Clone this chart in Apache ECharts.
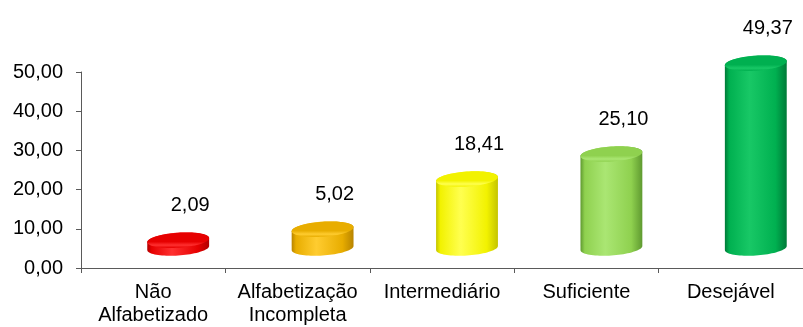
<!DOCTYPE html>
<html>
<head>
<meta charset="utf-8">
<script src="https://cdn.jsdelivr.net/npm/echarts@6/dist/echarts.min.js"></script>
<style>
  html, body { margin: 0; padding: 0; background: #fff; }
  #chart { width: 803px; height: 327px; }
</style>
</head>
<body>
<div id="chart"></div>
<script>
// Níveis de proficiência e percentuais
const categories = ['Não\nAlfabetizado', 'Alfabetização\nIncompleta', 'Intermediário', 'Suficiente', 'Desejável'];
const values = [2.09, 5.02, 18.41, 25.10, 49.37];
const yTicks = { min: 0, max: 50, interval: 10 };

// Cores de cada cilindro: [escura, base, clara]
const palette = [
  ['#b00000', '#e60000', '#ff3030'],
  ['#b88400', '#e8ad00', '#ffcc30'],
  ['#c4c400', '#f2f200', '#ffff50'],
  ['#5f9a30', '#8fd14f', '#aae673'],
  ['#007a38', '#00b050', '#18c866']
];

const fmt = v => v.toFixed(2).replace('.', ',');
const FONT = '"Liberation Sans", Arial, sans-serif';

function bodyGradient(c) {
  return new echarts.graphic.LinearGradient(0, 0, 1, 0, [
    { offset: 0, color: c[0] },
    { offset: 0.07, color: c[1] },
    { offset: 0.4, color: c[2] },
    { offset: 0.82, color: c[1] },
    { offset: 1, color: c[0] }
  ]);
}

function topGradient(c) {
  return new echarts.graphic.LinearGradient(0, 0, 0, 1, [
    { offset: 0, color: c[1] },
    { offset: 0.6, color: c[1] },
    { offset: 0.82, color: c[2] },
    { offset: 1, color: c[1] }
  ]);
}

// Ponto de uma elipse inclinada (ângulo phi, sentido anti-horário na tela)
function ellipsePoint(cx, cy, rx, ry, phi, t) {
  const u = rx * Math.cos(t), w = ry * Math.sin(t);
  return [cx + u * Math.cos(phi) + w * Math.sin(phi), cy - u * Math.sin(phi) + w * Math.cos(phi)];
}

function arc(cx, cy, rx, ry, phi, t0, t1, n) {
  const pts = [];
  for (let k = 0; k <= n; k++) pts.push(ellipsePoint(cx, cy, rx, ry, phi, t0 + (t1 - t0) * k / n));
  return pts;
}

// Cilindro em perspectiva: deslocado para trás (direita/cima) e levemente inclinado
function renderCylinder(params, api) {
  const idx = api.value(0);
  const v = api.value(1);
  const base = api.coord([idx, 0]);
  const top = api.coord([idx, v]);
  const dx = 25, dy = -20, depth = 0.955;
  const rx = 31, ry = 7.5, phi = 0.07;
  const cx = base[0] + dx;
  const by = base[1] + dy;
  const ty = by - (base[1] - top[1]) * depth;
  const c = palette[idx];
  // parâmetro onde a tangente da elipse é vertical (silhueta lateral)
  const tR = Math.atan2(ry * Math.sin(phi), rx * Math.cos(phi));
  const tL = tR + Math.PI;
  // silhueta: metade inferior da base + metade superior do topo
  const bodyPts = arc(cx, by, rx, ry, phi, tR, tL, 40)
    .concat(arc(cx, ty, rx, ry, phi, tL, tR + 2 * Math.PI, 40));
  const topPts = arc(cx, ty, rx, ry, phi, 0, 2 * Math.PI, 80);
  const children = [
    {
      type: 'polygon',
      shape: { points: bodyPts },
      style: { fill: bodyGradient(c) }
    },
    {
      type: 'polygon',
      shape: { points: topPts },
      style: { fill: topGradient(c) }
    },
    {
      type: 'text',
      x: cx + 12,
      y: ty - ry - 27,
      style: {
        text: fmt(v),
        fill: '#000',
        font: '20px ' + FONT,
        align: 'center',
        verticalAlign: 'middle'
      }
    }
  ];
  return { type: 'group', children: children };
}

const chart = echarts.init(document.getElementById('chart'), null, { renderer: 'canvas' });
chart.setOption({
  animation: false,
  backgroundColor: '#fff',
  grid: { left: 81, top: 72, width: 730, height: 198, containLabel: false },
  xAxis: {
    type: 'category',
    data: categories,
    axisLine: { lineStyle: { color: '#5a5a5a', width: 1 } },
    axisTick: { show: true, length: 5, lineStyle: { color: '#5a5a5a' } },
    axisLabel: {
      interval: 0, color: '#000', fontSize: 20, fontFamily: FONT,
      lineHeight: 23, margin: 13
    },
    splitLine: { show: false }
  },
  yAxis: {
    type: 'value',
    min: yTicks.min, max: yTicks.max, interval: yTicks.interval,
    axisLine: { show: true, lineStyle: { color: '#5a5a5a', width: 1 } },
    axisTick: { show: true, length: 5, lineStyle: { color: '#5a5a5a' } },
    axisLabel: { color: '#000', fontSize: 20, fontFamily: FONT, margin: 18, formatter: fmt },
    splitLine: { show: false }
  },
  series: [{
    type: 'custom',
    renderItem: renderCylinder,
    encode: { x: 0, y: 1 },
    clip: false,
    data: values.map((v, i) => [i, v])
  }]
});
</script>
</body>
</html>
